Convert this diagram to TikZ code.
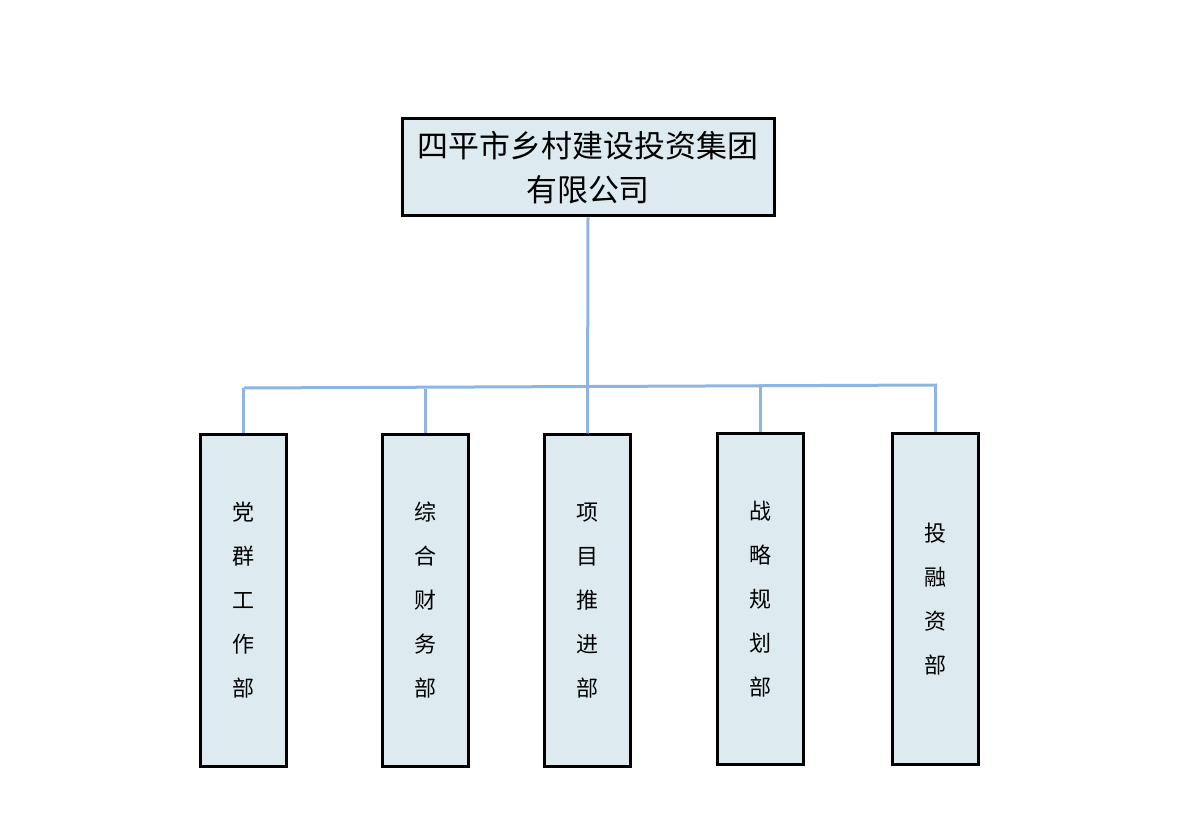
\documentclass[tikz,border=0pt]{standalone}
\usepackage{fontspec}
\newfontfamily\cjk{Noto Sans CJK SC}
\definecolor{boxfill}{RGB}{221,235,241}
\definecolor{linkblue}{RGB}{141,180,226}

\begin{document}
\begin{tikzpicture}[x=0.75pt, y=-0.75pt, line width=2.25pt,
                    main node/.style={rectangle,draw=black,fill=boxfill,font=\cjk\fontsize{16.5}{33}\selectfont,
                                      minimum width=64.5pt,minimum height=248.25pt,align=center,inner sep=0pt},
                    top node/.style={rectangle,draw=black,fill=boxfill,font=\cjk\fontsize{23.2}{33}\selectfont,
                                     minimum width=279pt,minimum height=72.75pt,align=center,inner sep=0pt},
                    link/.style={draw=linkblue,line width=2.25pt}]

  \useasboundingbox (0,0) rectangle (1183,830);

  \node[top node] (0) at (588,167.5) {四平市乡村建设投资集团\\有限公司};
  \node[main node] (1) at (243,600.5) {党\\群\\工\\作\\部};
  \node[main node] (2) at (425.5,600.5) {综\\合\\财\\务\\部};
  \node[main node] (3) at (587.5,600.5) {项\\目\\推\\进\\部};
  \node[main node] (4) at (760.5,599) {战\\略\\规\\划\\部};
  \node[main node] (5) at (935.5,599) {投\\融\\资\\部};

  \coordinate (barL) at (244,388);
  \coordinate (barR) at (937,385);

\path[link]
    (0.south) edge (3.north)
    (barL) edge (barR)
    (1.north) edge (1.north |- barL)
    (2.north) edge ([yshift=-0.75pt]2.north |- barL)
    (4.north) edge ([yshift=0.75pt]4.north |- barR)
    (5.north) edge (5.north |- barR);

\end{tikzpicture}
\end{document}
